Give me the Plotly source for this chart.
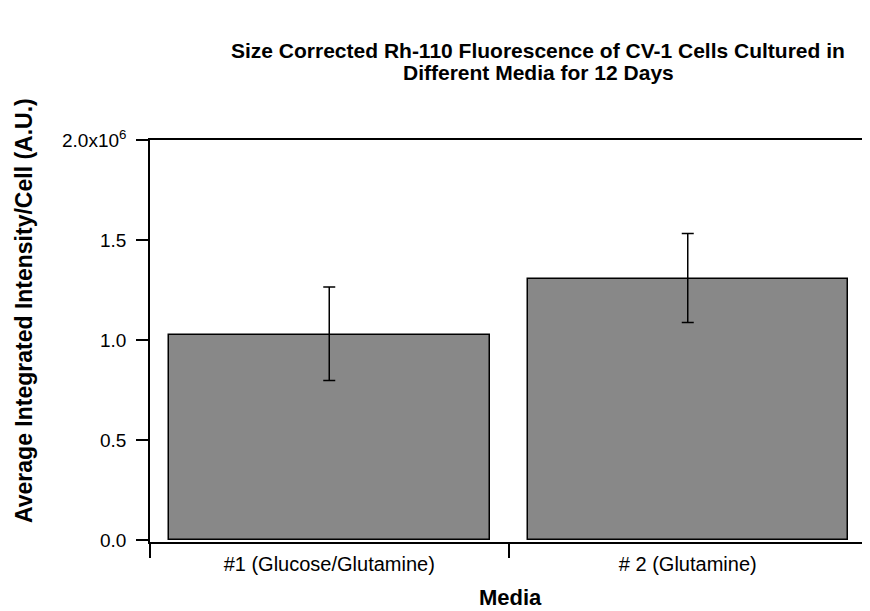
import plotly.graph_objects as go

categories = ["#1 (Glucose/Glutamine)", "# 2 (Glutamine)"]
values = [1.025e6, 1.305e6]
err_plus = [0.24e6, 0.228e6]
err_minus = [0.228e6, 0.217e6]
y_tickvals = [0, 0.5e6, 1.0e6, 1.5e6, 2.0e6]
y_ticktext = ["0.0", "0.5", "1.0", "1.5", "2.0x10<sup>6</sup>"]
title_lines = ["Size Corrected Rh-110 Fluorescence of CV-1 Cells Cultured in",
               "Different Media for 12 Days"]
x_title = "Media"
y_title = "Average Integrated Intensity/Cell (A.U.)"

FONT = "Liberation Sans, Arial, sans-serif"

# page is drawn with an 8px body margin; compensate
OFF = 8
L, T, R, B = 150, 140, 867, 542   # plot box in page pixels
W, H = 870 - OFF, 611 - OFF
PW, PH = R - L, B - T


def px(x):
    return (x - L) / PW


def py(y):
    return (B - y) / PH


fig = go.Figure()
fig.add_trace(go.Bar(
    x=categories, y=values, width=0.894,
    marker=dict(color="#888888", line=dict(color="black", width=1.5)),
    error_y=dict(type="data", array=err_plus, arrayminus=err_minus,
                 symmetric=False, color="black", thickness=1.5, width=6),
))

fig.update_layout(
    width=W, height=H,
    margin=dict(l=L - OFF, r=W - (R - OFF), t=T - OFF, b=H - (B - OFF), autoexpand=False),
    paper_bgcolor="white", plot_bgcolor="white",
    font=dict(family=FONT, color="black", size=19),
    showlegend=False,
    bargap=0,
)

for i, (line, yc) in enumerate(zip(title_lines, [50, 72])):
    fig.add_annotation(
        text=line, xref="paper", yref="paper", x=px(538), y=py(yc),
        xanchor="center", yanchor="middle", showarrow=False,
        font=dict(family=FONT, size=21, color="black", weight="bold"),
    )
fig.add_annotation(
    text=x_title, xref="paper", yref="paper", x=px(510), y=py(597),
    xanchor="center", yanchor="middle", showarrow=False,
    font=dict(family=FONT, size=22, color="black", weight="bold"),
)
fig.add_annotation(
    text=y_title, xref="paper", yref="paper", x=px(24), y=py(311),
    xanchor="center", yanchor="middle", showarrow=False, textangle=-90,
    font=dict(family=FONT, size=23, color="black", weight="bold"),
)

fig.update_xaxes(
    range=[-0.5, 1.5], tickson="boundaries",
    showline=True, linecolor="black", linewidth=1.5, mirror=True,
    ticks="outside", ticklen=14, tickwidth=1.5, tickcolor="black",
    tickfont=dict(size=20), ticklabelstandoff=3,
    showgrid=False, zeroline=False, automargin=False,
)
fig.update_yaxes(
    range=[-10000, 2.0e6], tickvals=y_tickvals, ticktext=y_ticktext,
    showline=True, linecolor="black", linewidth=1.5, mirror=True,
    ticks="outside", ticklen=12, tickwidth=1.5, tickcolor="black",
    tickfont=dict(size=19), ticklabelstandoff=6,
    showgrid=False, zeroline=False, automargin=False,
)

fig.write_html("out.html")
